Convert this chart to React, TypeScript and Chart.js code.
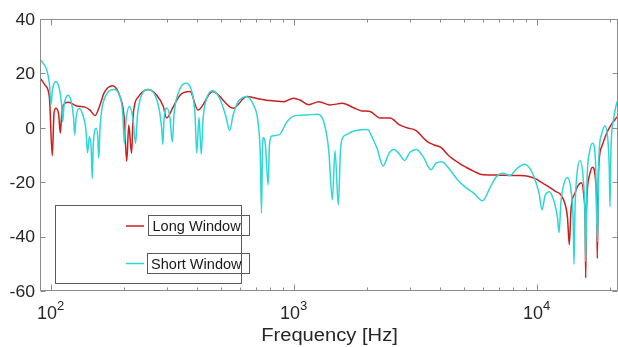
import React, { useEffect, useRef } from "react";
import { Chart, registerables } from "chart.js";

Chart.register(...registerables);

// ---- Data ----
const longFreq = [91, 94.7, 98.7, 101.5, 103.2, 105.1, 107.9, 109.5, 111.3, 114.5, 118.1, 127.9, 138.4, 145.1, 152.2, 159.6, 166.2, 179.6, 192.9, 200.4, 205.5, 209.5, 215.1, 218.8, 229.4, 251.4, 273.1, 290.7, 299.6, 319.6, 340.6, 374.4, 403.8, 463.4, 564.1, 640.7, 713.2, 798.9, 909.7, 998.1, 1061.5, 1150.6, 1270.8, 1410.8, 1584.9, 1770.8, 1910.3, 2060.8, 2265.6, 2491.1, 2713.3, 2926.3, 3186.7, 3536.5, 3778.2, 4037.3, 4314.6, 4787.1, 5117.2, 5520.5, 6011.7, 7063, 8535, 9209.6, 9933.9, 10416, 11130, 11893, 12589, 13075, 13389, 13618, 13841, 14375, 14790, 15288, 15624, 15833, 15908, 16029, 16491, 16967, 17455, 17672, 17756, 17960, 18512, 19410, 20032, 21408];
const longDb = [18.0, 15.7, 11.4, -10.3, 5.5, 7.2, 4.7, -2.0, 6.5, 9.0, 9.4, 8.0, 7.6, 6.5, 4.5, 8.5, 13.0, 15.5, 11.4, 4.1, -12.3, 1.0, -9.4, 5.3, 11.4, 14.1, 12.0, 7.8, 3.6, 7.8, 12.0, 13.3, 6.5, 13.3, 7.2, 11.5, 10.7, 10.0, 9.6, 10.9, 10.2, 8.5, 9.6, 8.4, 9.0, 7.3, 6.2, 6.0, 3.6, 3.6, 1.2, 0, -1.0, -5.0, -6.3, -7.2, -10.0, -13.0, -14.5, -16.0, -17.3, -17.4, -17.5, -17.8, -18.8, -20.0, -21.5, -23.3, -24.7, -28, -33, -43, -30, -24, -21.3, -20.2, -25, -35, -55.2, -30, -17.5, -14.5, -19, -30, -48, -16, -7, -2, 0.4, 4.0];

const shortFreq = [91.0, 93.4, 96.3, 98.7, 100.3, 101.7, 105.0, 108.7, 111.0, 112.0, 113.4, 115.1, 117.8, 121.2, 124.1, 125.5, 127.1, 130.8, 135.2, 139.7, 141.7, 144.2, 146.8, 148.2, 149.7, 153.9, 156.3, 157.6, 159.6, 162.1, 168.9, 181.0, 192.9, 197.9, 200.9, 204.2, 211.1, 218.2, 223.4, 227.7, 235.4, 251.9, 268.7, 280.4, 286.6, 289.3, 292.6, 300.5, 309.7, 316.5, 321.7, 334.1, 360.5, 381.5, 392.5, 398.9, 407.7, 416.3, 423.4, 435.6, 463.3, 497.4, 526.5, 544.8, 562.6, 589.9, 640.5, 686.4, 712.9, 728.6, 736.9, 743.9, 751.0, 763.9, 785.2, 794.9, 814.0, 869.9, 938.5, 1000, 1134.3, 1247.3, 1326.4, 1393.4, 1441.7, 1479.1, 1526.1, 1558.3, 1600.2, 1641.6, 1770.8, 1946.8, 2027.7, 2080.3, 2202.2, 2331.0, 2467.4, 2587.0, 2712.3, 2857.3, 3010.1, 3195.3, 3404.5, 3673.6, 3851.7, 4065.1, 4314.7, 4730.3, 5117.0, 5520.5, 5983.9, 6425.5, 6820.9, 7265.2, 7742.6, 8296.8, 8923.7, 9385.2, 9812.2, 10220, 10515, 10818, 11290, 11781, 12178, 12352, 12589, 12952, 13364, 13841, 14132, 14240, 14375, 14650, 15072, 15580, 15833, 15908, 16105, 16491, 16998, 17455, 17756, 18045, 18477, 19099, 19650, 19893, 20025, 20216, 20701, 21400];
const shortDb = [24.9, 23.5, 21.3, 16.4, 8.7, 14, 17.0, 14, 8, 2.2, 8, 10.8, 12, 10, 4, -2.6, 3.5, 7.2, 5, -1, -9.2, -3.3, -8, -18.6, -6, -0.2, -4, -11.2, 0, 6.5, 12, 14.1, 11.4, 5.3, -5.7, 3, 7.8, 3, -5.7, 5, 11.5, 14.1, 12, 6, -1, -6.1, 3, 7.3, 3.5, -5.2, 5, 12.5, 16.5, 13, 5, -9.3, 3.8, -9.7, 3, 10, 13.6, 10.5, 4, -1.0, 4.5, 9.5, 11.4, 8, 2.2, -10, -31.3, -8, -3.6, -6, -21, -6, -3, -2.6, 2.2, 4.3, 4.7, 5.0, 2.5, -8.2, -26.5, -8.4, -28.4, -8, -3.3, -2.6, -1.2, -0.6, -0.7, -2.6, -7.5, -14, -9.4, -8.0, -9.5, -12.0, -9, -8.0, -10.5, -15.4, -13, -12.5, -14.5, -19.2, -22, -24.1, -26.8, -22, -18, -16.7, -17.6, -15, -13.4, -15, -18.6, -24, -30.2, -25, -23.5, -27, -33, -38.6, -27, -20.5, -18.3, -23, -35, -50.2, -30, -17, -12.1, -20, -35, -49.2, -20, -9, -5.7, -12, -42, -10, -2.5, 0.7, -5, -15, -29, -8, 3, 9.6];

const yTicks = [40, 20, 0, -20, -40, -60];
const xDecades = [100, 1000, 10000];
const xExponents = ["2", "3", "4"];
const seriesLabels = ["Long Window", "Short Window"];
const seriesColors = ["#cc1f1f", "#2fd6d6"];
const xTitle = "Frequency [Hz]";

const X_MIN = 91.2;
const X_MAX = 21605;
const Y_MIN = -60;
const Y_MAX = 40;

const FONT = '"Liberation Sans", Arial, Helvetica, sans-serif';

function drawText(ctx: CanvasRenderingContext2D, text: string, x: number, y: number, size: number, sx: number, align: string) {
  ctx.save();
  ctx.font = `${size}px ${FONT}`;
  ctx.textAlign = "left";
  ctx.textBaseline = "alphabetic";
  const w = ctx.measureText(text).width * sx;
  const x0 = align === "right" ? x - w : align === "center" ? x - w / 2 : x;
  ctx.translate(x0, y);
  ctx.scale(sx, 1);
  ctx.fillText(text, 0, 0);
  ctx.restore();
}

const axesPlugin = {
  id: "matlabAxes",
  afterDatasetsDraw(chart: any) {
    const ctx: CanvasRenderingContext2D = chart.ctx;
    const a = chart.chartArea;
    const xs = chart.scales.x;
    const ys = chart.scales.y;
    ctx.save();
    ctx.strokeStyle = "#8c8c8c";
    ctx.lineWidth = 1;
    const L = a.left - 0.5, R = a.right - 0.5, T = a.top + 0.5, B = a.bottom - 0.5;
    ctx.beginPath();
    ctx.moveTo(L, T); ctx.lineTo(R, T); ctx.lineTo(R, B); ctx.lineTo(L, B); ctx.closePath();
    ctx.stroke();
    ctx.beginPath();
    for (let e = 1; e <= 4; e++) {
      for (let m = 1; m <= 9; m++) {
        const f = m * Math.pow(10, e);
        if (f < X_MIN || f > X_MAX) continue;
        const px = Math.round(xs.getPixelForValue(f)) + 0.5;
        const len = m === 1 ? 6 : 3;
        ctx.moveTo(px, B); ctx.lineTo(px, B - len);
        ctx.moveTo(px, T); ctx.lineTo(px, T + len);
      }
    }
    for (const v of yTicks) {
      const py = Math.round(ys.getPixelForValue(v)) + 0.5;
      ctx.moveTo(L, py); ctx.lineTo(L + 5, py);
      ctx.moveTo(R, py); ctx.lineTo(R - 5, py);
    }
    ctx.stroke();

    ctx.fillStyle = "#262626";
    for (const v of yTicks) {
      const py = ys.getPixelForValue(v);
      drawText(ctx, String(v), a.left - 6, py + 5.8, 16, 1.1, "right");
    }
    xDecades.forEach((f, i) => {
      const px = xs.getPixelForValue(f);
      ctx.font = `18px ${FONT}`;
      const w1 = ctx.measureText("10").width;
      ctx.font = `13px ${FONT}`;
      const w2 = ctx.measureText(xExponents[i]).width;
      const start = px - (w1 + w2) / 2;
      drawText(ctx, "10", start, 319, 18, 1, "left");
      drawText(ctx, xExponents[i], start + w1, 310, 13, 1, "left");
    });
    drawText(ctx, xTitle, (a.left + a.right) / 2, 341, 18, 1.12, "center");
    ctx.restore();
  },
  afterDraw(chart: any) {
    const ctx: CanvasRenderingContext2D = chart.ctx;
    ctx.save();
    ctx.strokeStyle = "#5a5a5a";
    ctx.lineWidth = 1;
    ctx.strokeRect(55.5, 205.5, 186, 78);
    ctx.strokeRect(148.5, 215.5, 101, 20);
    ctx.strokeRect(147.5, 253.5, 102, 20);
    ctx.lineWidth = 1.5;
    const ly = [226, 263.5];
    seriesLabels.forEach((lab, i) => {
      ctx.strokeStyle = seriesColors[i];
      ctx.beginPath();
      ctx.moveTo(126, ly[i]);
      ctx.lineTo(144, ly[i]);
      ctx.stroke();
      ctx.fillStyle = "#1a1a1a";
      drawText(ctx, lab, i === 0 ? 152.5 : 151, ly[i] + 5, 14, 1.04, "left");
    });
    ctx.restore();
  },
};

export default function App() {
  const ref = useRef<HTMLCanvasElement | null>(null);
  useEffect(() => {
    if (!ref.current) return;
    const chart = new Chart(ref.current, {
      type: "line",
      data: {
        datasets: [
          {
            label: seriesLabels[0],
            data: longFreq.map((f, i) => ({ x: f, y: longDb[i] })),
            borderColor: seriesColors[0],
            borderWidth: 1.5,
            pointRadius: 0,
            cubicInterpolationMode: "monotone",
            fill: false,
            order: 2,
          },
          {
            label: seriesLabels[1],
            data: shortFreq.map((f, i) => ({ x: f, y: shortDb[i] })),
            borderColor: seriesColors[1],
            borderWidth: 1.5,
            pointRadius: 0,
            cubicInterpolationMode: "monotone",
            fill: false,
            order: 1,
          },
        ],
      },
      options: {
        responsive: false,
        animation: false,
        devicePixelRatio: 1,
        layout: { padding: { left: 41, top: 19, right: 0, bottom: 56 } },
        plugins: { legend: { display: false }, tooltip: { enabled: false }, title: { display: false } },
        scales: {
          x: { type: "logarithmic", min: X_MIN, max: X_MAX, display: false },
          y: { type: "linear", min: Y_MIN, max: Y_MAX, display: false },
        },
        events: [],
      },
      plugins: [axesPlugin],
    } as any);
    return () => chart.destroy();
  }, []);
  return (
    <canvas
      ref={ref}
      width={618}
      height={347}
      style={{ position: "fixed", left: 0, top: 0, display: "block", background: "#fff" }}
    />
  );
}
